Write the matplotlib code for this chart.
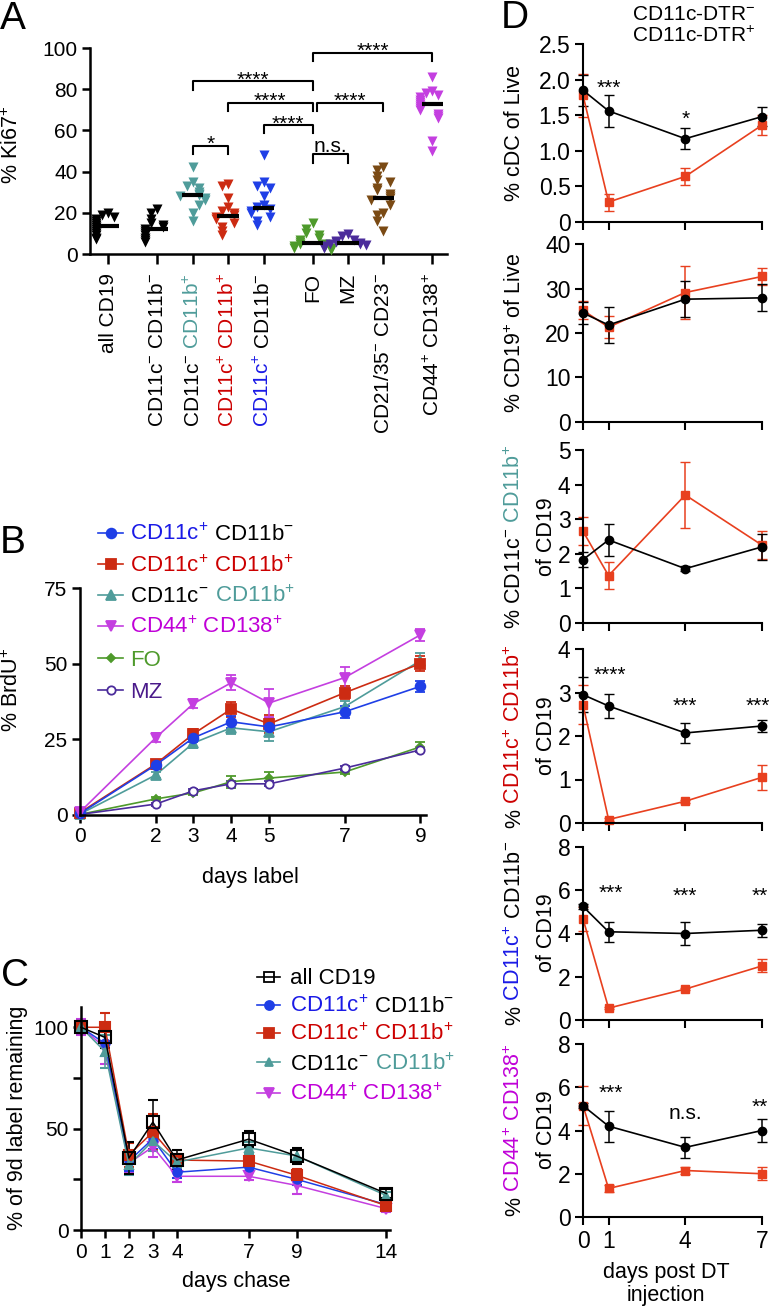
import numpy as np
import matplotlib
matplotlib.use("Agg")
import matplotlib.pyplot as plt
from matplotlib.lines import Line2D
from matplotlib.text import Annotation
from matplotlib.ticker import FuncFormatter

plt.rcParams["font.family"] = ["Liberation Sans", "DejaVu Sans"]
plt.rcParams["mathtext.fontset"] = "custom"
plt.rcParams["mathtext.rm"] = "Liberation Sans"
plt.rcParams["mathtext.it"] = "Liberation Sans:italic"
plt.rcParams["mathtext.bf"] = "Liberation Sans:bold"
plt.rcParams["mathtext.default"] = "regular"

# ---------------- data ----------------
# A: % Ki67+ per population (individual mice) and median bars
ki67_all_cd19 = [20, 19, 18, 17, 16, 15, 14, 13, 12, 11, 10, 9, 8, 7.5]
ki67_dn = [22, 20, 17, 15, 14, 13, 12, 11, 10, 9, 8, 7, 6]
ki67_c_neg_b_pos = [42, 35, 33, 32, 30, 29, 28.5, 28, 27, 26, 24, 20, 16]
ki67_c_pos_b_pos = [34, 33, 27, 23, 21, 20, 19, 18, 17, 15, 13, 11, 9]
ki67_c_pos_b_neg = [48, 35, 33, 32, 28, 24, 23, 22, 21, 20, 18, 16, 14]
ki67_fo = [15, 12, 10, 9, 8, 7, 6, 5, 5, 4, 4, 3, 3, 2]
ki67_mz = [9.5, 8.5, 7, 6.5, 6, 5.5, 5, 5, 4.5, 4, 3.5, 3]
ki67_cd21_neg = [42, 41, 38, 36, 35, 32, 31, 29, 28, 27, 26, 24, 20, 19, 16, 11]
ki67_cd44_cd138 = [86, 79, 78, 77, 76, 75, 74, 73, 72, 71, 70, 68, 67, 66, 55, 50]
ki67_medians = [13.5, 12, 28.5, 18.5, 22.5, 5.5, 5.5, 27, 73]

# B: % BrdU+ over days of labelling
b_days = [0, 2, 3, 4, 5, 7, 9]
b_c_pos_b_neg = [0.5, 16.5, 25.5, 30.8, 29.1, 34.1, 42.5]
b_c_pos_b_neg_err = [0.5, 1.2, 1.5, 2.0, 3.0, 2.0, 1.8]
b_c_pos_b_pos = [0.8, 16.8, 26.8, 35.0, 30.1, 40.4, 50.0]
b_c_pos_b_pos_err = [0.8, 1.2, 1.5, 2.5, 3.0, 2.2, 2.5]
b_c_neg_b_pos = [0.3, 13.2, 23.8, 28.8, 27.5, 35.8, 51.0]
b_c_neg_b_pos_err = [0.3, 1.0, 1.5, 2.0, 3.0, 2.0, 2.5]
b_cd44_cd138 = [1.0, 25.5, 36.8, 43.7, 37.0, 45.4, 59.5]
b_cd44_cd138_err = [0.8, 1.5, 1.5, 2.5, 4.5, 3.5, 2.0]
b_fo = [0.2, 5.3, 7.3, 11.0, 12.2, 14.2, 22.5]
b_fo_err = [0.2, 0.5, 0.6, 2.0, 2.0, 0.6, 1.5]
b_mz = [0.2, 3.6, 8.0, 10.3, 10.3, 15.5, 21.5]
b_mz_err = [0.2, 0.5, 0.5, 0.8, 0.8, 0.6, 0.6]

# C: % of 9d label remaining over days of chase
c_days = [0, 1, 2, 3, 4, 7, 9, 14]
c_all_cd19 = [100, 95, 35.5, 53.2, 34.5, 44.8, 36.5, 18]
c_all_cd19_err = [3, 5, 8, 11, 5, 4, 4, 2]
c_c_pos_b_neg = [100, 92, 34, 45, 28.5, 31, 25, 12.5]
c_c_pos_b_neg_err = [3, 6, 5, 5, 3, 2, 3, 1.5]
c_c_pos_b_pos = [100, 100, 37, 48.3, 34.5, 34, 27, 12]
c_c_pos_b_pos_err = [3, 7, 6, 9, 3, 3, 3, 1.5]
c_c_neg_b_pos = [100, 88, 32, 44, 33.5, 40.5, 36.5, 17]
c_c_neg_b_pos_err = [3, 8, 5, 5, 3, 3, 3, 1.5]
c_cd44_cd138 = [100, 90, 33, 41, 26.5, 26.5, 22, 10.5]
c_cd44_cd138_err = [4, 8, 5, 5, 3, 2, 4, 1.5]

# D: CD11c-DTR- (wt) vs CD11c-DTR+ (dtr), days post DT injection
d_days = [0, 1, 4, 7]
d_cdc_wt = [1.85, 1.56, 1.17, 1.48]
d_cdc_wt_err = [0.22, 0.22, 0.15, 0.13]
d_cdc_dtr = [1.78, 0.28, 0.64, 1.36]
d_cdc_dtr_err = [0.3, 0.12, 0.12, 0.14]
d_cd19_wt = [24.5, 21.8, 27.6, 27.9]
d_cd19_wt_err = [2.5, 4.0, 4.0, 3.0]
d_cd19_dtr = [25.1, 21.3, 29.1, 32.7]
d_cd19_dtr_err = [2.0, 2.5, 6.0, 2.0]
d_dn_wt = [1.83, 2.4, 1.57, 2.2]
d_dn_wt_err = [0.22, 0.45, 0.08, 0.38]
d_dn_dtr = [2.65, 1.37, 3.7, 2.25]
d_dn_dtr_err = [0.4, 0.38, 0.95, 0.4]
d_dp_wt = [2.95, 2.69, 2.07, 2.23]
d_dp_wt_err = [0.4, 0.27, 0.23, 0.14]
d_dp_dtr = [2.72, 0.08, 0.5, 1.05]
d_dp_dtr_err = [0.45, 0.03, 0.03, 0.29]
d_sp_wt = [5.25, 4.08, 4.0, 4.15]
d_sp_wt_err = [0.1, 0.45, 0.55, 0.3]
d_sp_dtr = [4.68, 0.55, 1.43, 2.5]
d_sp_dtr_err = [0.55, 0.05, 0.05, 0.3]
d_pc_wt = [5.15, 4.2, 3.22, 4.0]
d_pc_wt_err = [0.1, 0.72, 0.5, 0.55]
d_pc_dtr = [5.15, 1.32, 2.15, 2.0]
d_pc_dtr_err = [0.9, 0.18, 0.15, 0.3]

# ---------------- style ----------------
BLUE = "#1f3fe6"
RED = "#cc2b12"
TEAL = "#4f9c9a"
MAGENTA = "#c43fe0"
GREEN = "#4e9a2b"
PURPLE = "#4b2c9b"
BROWN = "#7a4a14"
D_RED = "#e8401f"
BLUE_T = "#1a1ae6"
RED_T = "#cc0000"
TEAL_T = "#4f9c9a"
MAG_T = "#c000d8"
GREEN_T = "#4e9a2b"
PURPLE_T = "#4a1a8a"

W, H = 769, 1310
fig = plt.figure(figsize=(W / 100, H / 100), dpi=100)


def px_axes(l, t, r, b):
    return fig.add_axes([l / W, 1 - b / H, (r - l) / W, (b - t) / H])


def style(ax, lw=1.8, fs=15):
    for s in ("top", "right"):
        ax.spines[s].set_visible(False)
    for s in ("left", "bottom"):
        ax.spines[s].set_linewidth(lw)
    ax.tick_params(direction="out", length=6, width=lw, labelsize=fs, pad=3)


def stars(ax, x, yc, s, fs=15):
    k = 0.27 if s == "n.s." else 0.57
    ax.annotate(s, (x, yc), xytext=(0, -k * fs), textcoords="offset points",
                ha="center", va="baseline", fontsize=fs, annotation_clip=False)


def hchain(x_px, ybase_px, parts, fs=15):
    prev = fig.text(x_px / W, 1 - ybase_px / H, parts[0][0], color=parts[0][1],
                    fontsize=fs, ha="left", va="baseline")
    for s, c in parts[1:]:
        prev = fig.add_artist(Annotation(s, xy=(1, 0), xycoords=prev, ha="left",
                                         va="bottom", color=c, fontsize=fs))


vchains = []


def vchain(x_px, yc_px, parts, fs=15.5):
    first = fig.text(x_px / W, 1 - yc_px / H, parts[0][0], color=parts[0][1],
                     fontsize=fs, rotation=90, ha="center", va="bottom")
    items = [first]
    prev = first
    for s, c in parts[1:]:
        prev = fig.add_artist(Annotation(s, xy=(1, 1), xycoords=prev, ha="right",
                                         va="bottom", color=c, fontsize=fs, rotation=90))
        items.append(prev)
    vchains.append((first, items, yc_px))


def legend_row(x0, x1, y_px, color, marker, ms, mfc):
    yy = 1 - y_px / H
    fig.add_artist(Line2D([x0 / W, x1 / W], [yy, yy], transform=fig.transFigure,
                          color=color, lw=1.2))
    fig.add_artist(Line2D([(x0 + x1) / 2 / W], [yy], transform=fig.transFigure,
                          marker=marker, ms=ms, mfc=mfc, mec=color, mew=1.3, ls="none"))


# ---------------- panel A ----------------
axA = px_axes(90, 48, 447, 254)
style(axA)
ki67_groups = [ki67_all_cd19, ki67_dn, ki67_c_neg_b_pos, ki67_c_pos_b_pos, ki67_c_pos_b_neg,
               ki67_fo, ki67_mz, ki67_cd21_neg, ki67_cd44_cd138]
ki67_colors = ["black", "black", TEAL, RED, BLUE, GREEN, PURPLE, BROWN, MAGENTA]
gap_after = {0, 4, 7}
pos = [0.0]
for i in range(1, len(ki67_groups)):
    pos.append(pos[-1] + (1.38 if (i - 1) in gap_after else 1.0))


def swarm_offsets(vals, delta=3.2, step=0.17):
    offs, placed = [], []
    for v in vals:
        n = sum(1 for p in placed if abs(p - v) < delta)
        k = (n + 1) // 2
        offs.append((-1 if n % 2 else 1) * k * step)
        placed.append(v)
    return np.array(offs)


for i, (vals, col) in enumerate(zip(ki67_groups, ki67_colors)):
    axA.scatter(pos[i] + swarm_offsets(vals), vals, marker="v", s=52, color=col,
                linewidths=0, zorder=3, clip_on=False)
    axA.hlines(ki67_medians[i], pos[i] - 0.3, pos[i] + 0.3, color="black", lw=3, zorder=4)

axA.set_xlim(-0.51, 9.55)
axA.set_ylim(0, 100)
axA.set_yticks([0, 20, 40, 60, 80, 100])
axA.set_xticks(pos)
axA.set_xticklabels([])
axA.tick_params(axis="x", length=7)

# significance brackets: (i1, i2, line y, drop, text, left shift)
brackets = [(5, 8, 97.7, 4.0, "****", 0.0), (2, 5, 84.0, 4.5, "****", 0.0),
            (3, 5, 73.4, 4.0, "****", 0.0), (5, 7, 73.4, 4.0, "****", 0.12),
            (4, 5, 62.6, 4.0, "****", 0.0), (2, 3, 52.6, 4.0, "*", 0.0),
            (5, 6, 48.5, 4.5, "n.s.", 0.0)]
for i1, i2, y, d, s, sh in brackets:
    x1, x2 = pos[i1] + sh, pos[i2]
    axA.plot([x1, x1, x2, x2], [y - d, y, y, y - d], color="black", lw=1.5, clip_on=False)
    stars(axA, (x1 + x2) / 2, y + 3.6, s)

ki67_labels = [
    [("all CD19", "black")],
    [("CD11c$^{-}$ CD11b$^{-}$", "black")],
    [("CD11c$^{-}$", "black"), (" CD11b$^{+}$", TEAL_T)],
    [("CD11c$^{+}$ CD11b$^{+}$", RED_T)],
    [("CD11c$^{+}$", BLUE_T), (" CD11b$^{-}$", "black")],
    [("FO", "black")],
    [("MZ", "black")],
    [("CD21/35$^{-}$ CD23$^{-}$", "black")],
    [("CD44$^{+}$ CD138$^{+}$", "black")],
]
for p, parts in zip(pos, ki67_labels):
    s, c = parts[-1]
    prev = axA.annotate(s, xy=(p, 0), xycoords=("data", "axes fraction"), xytext=(0, -13.5),
                        textcoords="offset points", rotation=90, ha="center", va="top",
                        color=c, fontsize=15, annotation_clip=False)
    for s, c in reversed(parts[:-1]):
        prev = axA.annotate(s, xy=(1, 0), xycoords=prev, rotation=90, ha="right", va="top",
                            color=c, fontsize=15, annotation_clip=False)

fig.text(12 / W, 1 - 145 / H, "% Ki67$^{+}$", rotation=90, ha="center", va="center", fontsize=15.5)

# ---------------- panel B ----------------
axB = px_axes(80, 588, 426, 815)
style(axB)
b_series = [
    (b_fo, b_fo_err, GREEN, "D", 4.5, GREEN),
    (b_mz, b_mz_err, PURPLE, "o", 6, "white"),
    (b_c_neg_b_pos, b_c_neg_b_pos_err, TEAL, "^", 6.5, TEAL),
    (b_c_pos_b_pos, b_c_pos_b_pos_err, RED, "s", 7, RED),
    (b_c_pos_b_neg, b_c_pos_b_neg_err, BLUE, "o", 7, BLUE),
    (b_cd44_cd138, b_cd44_cd138_err, MAGENTA, "v", 7, MAGENTA),
]
for vals, err, col, m, ms, mfc in b_series:
    axB.errorbar(b_days, vals, yerr=err, color=col, marker=m, ms=ms, mfc=mfc, mec=col,
                 mew=1.3, lw=1.2, elinewidth=1.1, capsize=3.5, clip_on=False)
axB.set_xlim(0, 9.15)
axB.set_ylim(0, 75)
axB.set_yticks([0, 25, 50, 75])
axB.set_xticks(b_days)
fig.text(250 / W, 1 - 877 / H, "days label", ha="center", va="center", fontsize=15.5)
fig.text(12 / W, 1 - 690 / H, "% BrdU$^{+}$", rotation=90, ha="center", va="center", fontsize=15.5)

b_leg = [
    (533, BLUE, "o", 7, BLUE, [("CD11c$^{+}$", BLUE_T), (" CD11b$^{-}$", "black")]),
    (564, RED, "s", 7, RED, [("CD11c$^{+}$ CD11b$^{+}$", RED_T)]),
    (595, TEAL, "^", 6.5, TEAL, [("CD11c$^{-}$", "black"), (" CD11b$^{+}$", TEAL_T)]),
    (626, MAGENTA, "v", 7, MAGENTA, [("CD44$^{+}$ CD138$^{+}$", MAG_T)]),
    (658, GREEN, "D", 4.5, GREEN, [("FO", GREEN_T)]),
    (690, PURPLE, "o", 6, "white", [("MZ", PURPLE_T)]),
]
for y, col, m, ms, mfc, parts in b_leg:
    legend_row(98, 123, y, col, m, ms, mfc)
    hchain(130, y + 7.5, parts, fs=16)

# ---------------- panel C ----------------
def c_fwd(x):
    x = np.asarray(x, dtype=float)
    return np.where(x <= 9, x, 9 + (x - 9) * 0.75)


def c_inv(x):
    x = np.asarray(x, dtype=float)
    return np.where(x <= 9, x, 9 + (x - 9) / 0.75)


axC = px_axes(81, 1007, 390, 1230)
style(axC)
axC.set_xscale("function", functions=(c_fwd, c_inv))
c_series = [
    (c_cd44_cd138, c_cd44_cd138_err, MAGENTA, "v", 6.5, MAGENTA),
    (c_c_pos_b_neg, c_c_pos_b_neg_err, BLUE, "o", 6, BLUE),
    (c_c_pos_b_pos, c_c_pos_b_pos_err, RED, "s", 6.5, RED),
    (c_c_neg_b_pos, c_c_neg_b_pos_err, TEAL, "^", 6, TEAL),
    (c_all_cd19, c_all_cd19_err, "black", "s", 8, "none"),
]
for vals, err, col, m, ms, mfc in c_series:
    axC.errorbar(c_days, vals, yerr=err, color=col, marker=m, ms=ms, mfc=mfc, mec=col,
                 mew=1.5, lw=1.1, elinewidth=1.1, capsize=3.5, clip_on=False)
axC.set_xlim(0, 14.2)
axC.set_ylim(0, 110)
axC.set_yticks([0, 50, 100])
axC.set_yticks([25, 75], minor=True)
axC.tick_params(axis="y", which="minor", length=6, width=1.8)
axC.set_xticks(c_days)
axC.set_xticks([], minor=True)
axC.xaxis.set_major_formatter(FuncFormatter(lambda v, p: f"{v:g}"))
fig.text(236 / W, 1 - 1282 / H, "days chase", ha="center", va="center", fontsize=15.5)
fig.text(18 / W, 1 - 1118 / H, "% of 9d label remaining", rotation=90, ha="center",
         va="center", fontsize=15.5)

c_leg = [
    (977, "black", "s", 7, "none", [("all CD19", "black")]),
    (1005, BLUE, "o", 6.5, BLUE, [("CD11c$^{+}$", BLUE_T), (" CD11b$^{-}$", "black")]),
    (1033, RED, "s", 6.5, RED, [("CD11c$^{+}$ CD11b$^{+}$", RED_T)]),
    (1062, TEAL, "^", 6, TEAL, [("CD11c$^{-}$", "black"), (" CD11b$^{+}$", TEAL_T)]),
    (1093, MAGENTA, "v", 6.5, MAGENTA, [("CD44$^{+}$ CD138$^{+}$", MAG_T)]),
]
for y, col, m, ms, mfc, parts in c_leg:
    legend_row(257, 280, y, col, m, ms, mfc)
    hchain(290, y + 7.5, parts, fs=16)

# ---------------- panel D ----------------
d_panels = [
    (44, 222, 2.5, 0.5, d_cdc_wt, d_cdc_wt_err, d_cdc_dtr, d_cdc_dtr_err,
     [(1, 1.97, "***"), (4, 1.53, "*")]),
    (244, 422, 40, 10, d_cd19_wt, d_cd19_wt_err, d_cd19_dtr, d_cd19_dtr_err, []),
    (450, 623, 5, 1, d_dn_wt, d_dn_wt_err, d_dn_dtr, d_dn_dtr_err, []),
    (649, 823, 4, 1, d_dp_wt, d_dp_wt_err, d_dp_dtr, d_dp_dtr_err,
     [(1.06, 3.55, "****"), (4, 2.83, "***"), (6.82, 2.83, "***")]),
    (847, 1020, 8, 2, d_sp_wt, d_sp_wt_err, d_sp_dtr, d_sp_dtr_err,
     [(1.1, 6.15, "***"), (4, 6.0, "***"), (6.9, 6.0, "**")]),
    (1044, 1217, 8, 2, d_pc_wt, d_pc_wt_err, d_pc_dtr, d_pc_dtr_err,
     [(1.1, 6.0, "***"), (4, 4.8, "n.s."), (6.9, 5.35, "**")]),
]
d_axes = []
for k, (top, bot, ymax, step, wt, wte, dtr, dtre, sig) in enumerate(d_panels):
    ax = px_axes(583, top, 762, bot)
    style(ax, lw=1.5, fs=16.5)
    ax.errorbar(d_days, dtr, yerr=dtre, color=D_RED, marker="s", ms=6, lw=1.2,
                elinewidth=1.1, capsize=3.5, clip_on=False)
    ax.errorbar(d_days, wt, yerr=wte, color="black", marker="o", ms=6, lw=1.2,
                elinewidth=1.1, capsize=3.5, clip_on=False)
    ax.set_xlim(0, 7)
    ax.set_ylim(0, ymax)
    ax.set_yticks(np.arange(0, ymax + step / 2, step))
    ax.set_xticks(d_days)
    if step < 1:
        ax.yaxis.set_major_formatter(FuncFormatter(lambda v, p: "0" if v == 0 else f"{v:.1f}"))
    if k < 5:
        ax.set_xticklabels([])
    for x, yc, s in sig:
        stars(ax, x, yc, s)
    d_axes.append(ax)

vchain(515, 133, [("% cDC of Live", "black")])
vchain(515, 333, [("% CD19$^{+}$ of Live", "black")])
vchain(515, 537, [("% CD11c$^{-}$", "black"), (" CD11b$^{+}$", TEAL_T)])
vchain(515, 736, [("%", "black"), (" CD11c$^{+}$ CD11b$^{+}$", RED_T)])
vchain(515, 933, [("%", "black"), (" CD11c$^{+}$", BLUE_T), (" CD11b$^{-}$", "black")])
vchain(515, 1130, [("%", "black"), (" CD44$^{+}$ CD138$^{+}$", MAG_T)])
for yc in (537, 736, 933, 1130):
    fig.text(547 / W, 1 - yc / H, "of CD19", rotation=90, ha="center", va="center", fontsize=15.5)

fig.text(666 / W, 1 - 1284 / H, "days post DT\ninjection", ha="center", va="center",
         fontsize=15.5, linespacing=1.15)
fig.text(632 / W, 1 - 14 / H, "CD11c-DTR$^{-}$", ha="left", va="center", fontsize=15)
fig.text(632 / W, 1 - 36 / H, "CD11c-DTR$^{+}$", ha="left", va="center", fontsize=15)

# panel letters (baseline positions)
for letter, x, y in [("A", 0, 29), ("B", 0, 553), ("C", 1, 986), ("D", 501, 28)]:
    fig.text(x / W, 1 - y / H, letter, ha="left", va="baseline", fontsize=28)

# centre the multi-colour rotated labels
fig.canvas.draw()
renderer = fig.canvas.get_renderer()
for first, items, yc in vchains:
    ext = [t.get_window_extent(renderer) for t in items]
    y0 = min(e.y0 for e in ext)
    y1 = max(e.y1 for e in ext)
    mid_px = H - (y0 + y1) / 2
    fx, fyy = first.get_position()
    first.set_position((fx, fyy + (mid_px - yc) / H))

fig.savefig("out.png", dpi=100)
